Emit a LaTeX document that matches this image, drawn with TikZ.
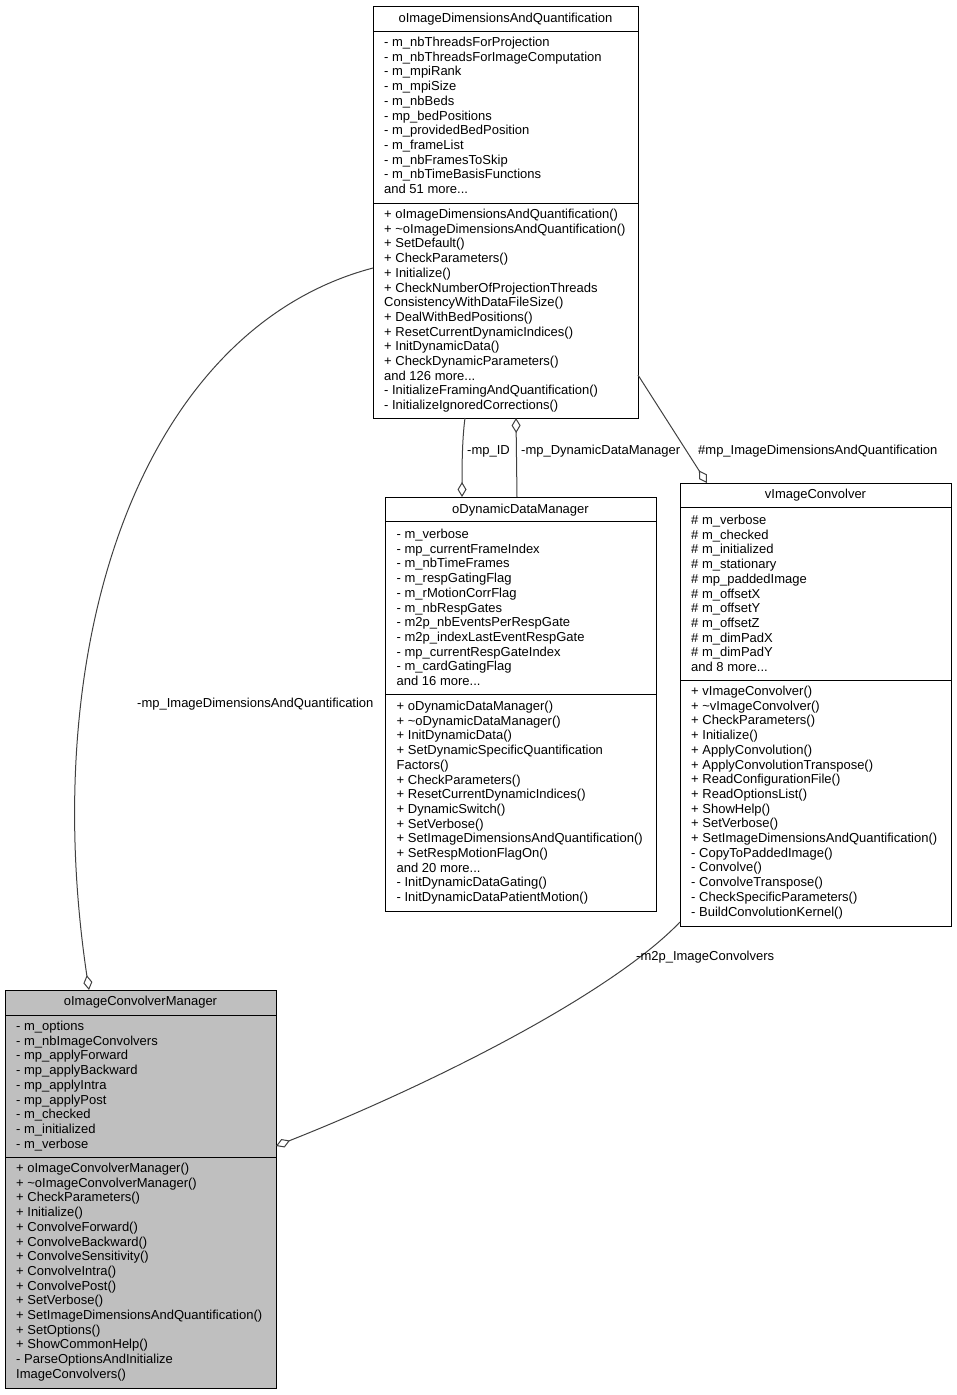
\documentclass[tikz,border=0pt]{standalone}
\usepackage{fontspec}
\setmainfont{Liberation Sans}
\usetikzlibrary{arrows.meta,calc}
\definecolor{edgegray}{HTML}{404040}
\definecolor{boxgray}{HTML}{BFBFBF}
\newcommand{\threedots}{...}
\newcommand{\boxlines}[4]{%
  \foreach \t [count=\i from 0] in {#4} {%
    \node[txt] (#1\i) at (#2,{#3+14.7*\i}) {\t};}}
\begin{document}
\begin{tikzpicture}[x=1pt,y=-1pt,
  txt/.style={anchor=base west, inner sep=0pt, font=\fontsize{13}{14.7}\selectfont, text=black},
  ttl/.style={anchor=base, inner sep=0pt, font=\fontsize{13}{14.7}\selectfont, text=black},
  umlbox/.style={draw=black, line width=1pt, anchor=north west, inner sep=0pt, outer sep=0pt, rectangle, fill=white},
  sepline/.style={draw=black, line width=1pt},
  conn/.style={draw=edgegray, line width=1pt, line join=miter},
  agg/.style={-{Diamond[open, length=15pt, width=9pt]}},
  lbl/.style={anchor=base west, inner sep=0pt, font=\fontsize{13}{14.7}\selectfont, text=black}]
\useasboundingbox (0,0) rectangle (956,1395);

% ---------------- Box A: oImageDimensionsAndQuantification
\node[umlbox, minimum width=265pt, minimum height=412pt] (A) at (373,6) {};
\draw[sepline] ($(A.north west)+(0,25)$) -- ($(A.north east)+(0,25)$);
\draw[sepline] ($(A.north west)+(0,197)$) -- ($(A.north east)+(0,197)$);
\node[ttl] (At) at (505.5,22.5) {oImageDimensionsAndQuantification};
\boxlines{Aa}{384}{46.5}{- m\_nbThreadsForProjection,- m\_nbThreadsForImageComputation,- m\_mpiRank,- m\_mpiSize,- m\_nbBeds,- mp\_bedPositions,- m\_providedBedPosition,- m\_frameList,- m\_nbFramesToSkip,- m\_nbTimeBasisFunctions,and 51 more\threedots}
\boxlines{Am}{384}{218.5}{+ oImageDimensionsAndQuantification(),+ \textasciitilde{}oImageDimensionsAndQuantification(),+ SetDefault(),+ CheckParameters(),+ Initialize(),+ CheckNumberOfProjectionThreads,ConsistencyWithDataFileSize(),+ DealWithBedPositions(),+ ResetCurrentDynamicIndices(),+ InitDynamicData(),+ CheckDynamicParameters(),and 126 more\threedots,- InitializeFramingAndQuantification(),- InitializeIgnoredCorrections()}

% ---------------- Box B: oDynamicDataManager
\node[umlbox, minimum width=271pt, minimum height=414.5pt] (B) at (385,497) {};
\draw[sepline] ($(B.north west)+(0,24.5)$) -- ($(B.north east)+(0,24.5)$);
\draw[sepline] ($(B.north west)+(0,197)$) -- ($(B.north east)+(0,197)$);
\node[ttl] (Bt) at (520.5,513.5) {oDynamicDataManager};
\boxlines{Ba}{396.5}{538.5}{- m\_verbose,- mp\_currentFrameIndex,- m\_nbTimeFrames,- m\_respGatingFlag,- m\_rMotionCorrFlag,- m\_nbRespGates,- m2p\_nbEventsPerRespGate,- m2p\_indexLastEventRespGate,- mp\_currentRespGateIndex,- m\_cardGatingFlag,and 16 more\threedots}
\boxlines{Bm}{396.5}{710.5}{+ oDynamicDataManager(),+ \textasciitilde{}oDynamicDataManager(),+ InitDynamicData(),+ SetDynamicSpecificQuantification,Factors(),+ CheckParameters(),+ ResetCurrentDynamicIndices(),+ DynamicSwitch(),+ SetVerbose(),+ SetImageDimensionsAndQuantification(),+ SetRespMotionFlagOn(),and 20 more\threedots,- InitDynamicDataGating(),- InitDynamicDataPatientMotion()}

% ---------------- Box C: vImageConvolver
\node[umlbox, minimum width=271pt, minimum height=443.5pt] (C) at (680,483) {};
\draw[sepline] ($(C.north west)+(0,24.5)$) -- ($(C.north east)+(0,24.5)$);
\draw[sepline] ($(C.north west)+(0,197)$) -- ($(C.north east)+(0,197)$);
\node[ttl] (Ct) at (815.5,498.5) {vImageConvolver};
\boxlines{Ca}{691}{524.5}{\# m\_verbose,\# m\_checked,\# m\_initialized,\# m\_stationary,\# mp\_paddedImage,\# m\_offsetX,\# m\_offsetY,\# m\_offsetZ,\# m\_dimPadX,\# m\_dimPadY,and 8 more\threedots}
\boxlines{Cm}{691}{695.5}{+ vImageConvolver(),+ \textasciitilde{}vImageConvolver(),+ CheckParameters(),+ Initialize(),+ ApplyConvolution(),+ ApplyConvolutionTranspose(),+ ReadConfigurationFile(),+ ReadOptionsList(),+ ShowHelp(),+ SetVerbose(),+ SetImageDimensionsAndQuantification(),- CopyToPaddedImage(),- Convolve(),- ConvolveTranspose(),- CheckSpecificParameters(),- BuildConvolutionKernel()}

% ---------------- Box D: oImageConvolverManager
\node[umlbox, fill=boxgray, minimum width=271pt, minimum height=398pt] (D) at (5,990) {};
\draw[sepline] ($(D.north west)+(0,25)$) -- ($(D.north east)+(0,25)$);
\draw[sepline] ($(D.north west)+(0,167.5)$) -- ($(D.north east)+(0,167.5)$);
\node[ttl] (Dt) at (140.5,1005.5) {oImageConvolverManager};
\boxlines{Da}{16}{1030.5}{- m\_options,- m\_nbImageConvolvers,- mp\_applyForward,- mp\_applyBackward,- mp\_applyIntra,- mp\_applyPost,- m\_checked,- m\_initialized,- m\_verbose}
\boxlines{Dm}{16}{1172.5}{+ oImageConvolverManager(),+ \textasciitilde{}oImageConvolverManager(),+ CheckParameters(),+ Initialize(),+ ConvolveForward(),+ ConvolveBackward(),+ ConvolveSensitivity(),+ ConvolveIntra(),+ ConvolvePost(),+ SetVerbose(),+ SetImageDimensionsAndQuantification(),+ SetOptions(),+ ShowCommonHelp(),- ParseOptionsAndInitialize,ImageConvolvers()}

% ---------------- Connectors
\draw[conn, agg] ($(A.north west)+(0,262)$) .. controls (145,328) and (36,635) .. ($(D.north west)+(84,0)$);
\draw[conn, agg] ($(A.south west)+(92,0)$) .. controls (462,440) and (462,470) .. ($(B.north west)+(77,0)$);
\draw[conn, agg] ($(B.north west)+(132,0)$) -- ($(A.south west)+(143,0)$);
\draw[conn, agg] ($(A.north east)+(0,369)$) -- ($(C.north west)+(27,0)$);
\draw[conn, agg] ($(C.north west)+(0,439)$) .. controls (610,995) and (430,1085) .. ($(D.north east)+(0,156)$);

% ---------------- Labels
\node[lbl] (L1) at (137,707.5) {-mp\_ImageDimensionsAndQuantification};
\node[lbl] (L2) at (467,454.5) {-mp\_ID};
\node[lbl] (L3) at (521,454.5) {-mp\_DynamicDataManager};
\node[lbl] (L4) at (698,454.5) {\#mp\_ImageDimensionsAndQuantification};
\node[lbl] (L5) at (636,960.5) {-m2p\_ImageConvolvers};
\end{tikzpicture}
\end{document}
